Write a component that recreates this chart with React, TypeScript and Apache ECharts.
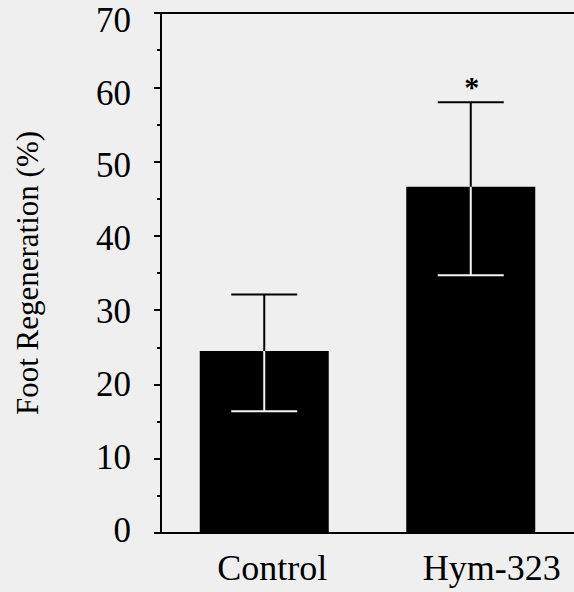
import React, { useEffect, useRef } from "react";
import * as echarts from "echarts";

const categories = ["Control", "Hym-323"];
const means = [24.5, 46.6];
const errLow = [16.4, 34.7];
const errHigh = [32.1, 58.0];
const sigMarks = ["", "*"];
const yTicks = { min: 0, max: 70, interval: 10 };
const yLabels = [0, 10, 20, 30, 40, 50, 60, 70];

const FONT = "'Liberation Serif', 'Times New Roman', serif";

export default function App() {
  const ref = useRef<HTMLDivElement>(null);
  useEffect(() => {
    if (!ref.current) return;
    const chart = echarts.init(ref.current, undefined, { renderer: "svg" });
    const errData = categories.map((_, i) => [i, means[i], errLow[i], errHigh[i]]);
    chart.setOption({
      animation: false,
      backgroundColor: "#efefef",
      grid: { left: 161, right: -7, top: 13, bottom: 59, containLabel: false },
      xAxis: [
        {
          type: "category",
          data: categories,
          axisLine: { show: true, onZero: false, lineStyle: { color: "#000", width: 2 } },
          axisTick: { show: false },
          axisLabel: {
            interval: 0,
            hideOverlap: false,
            color: "#000",
            fontSize: 36,
            fontFamily: FONT,
            margin: 17,
            formatter: (v: string, i: number) => `{c${i}|${v}}`,
            rich: {
              c0: { fontSize: 36, fontFamily: FONT, color: "#000", padding: [0, 0, 0, 16] },
              c1: { fontSize: 36, fontFamily: FONT, color: "#000", padding: [0, 0, 0, 42] },
            },
          },
        },
        {
          type: "category",
          data: categories,
          position: "top",
          axisLine: { show: true, onZero: false, lineStyle: { color: "#000", width: 2 } },
          axisTick: { show: false },
          axisLabel: { show: false },
        },
      ],
      yAxis: [
        {
          type: "value",
          min: yTicks.min,
          max: yTicks.max,
          interval: yTicks.interval,
          name: "Foot Regeneration (%)",
          nameLocation: "middle",
          nameGap: 118,
          nameTextStyle: { color: "#000", fontSize: 31, fontFamily: FONT },
          axisLine: { show: true, onZero: false, lineStyle: { color: "#000", width: 2 } },
          axisTick: { show: true, length: 7, lineStyle: { color: "#000", width: 2 } },
          minorTick: { show: true, splitNumber: 2, length: 4, lineStyle: { color: "#000", width: 2 } },
          splitLine: { show: false },
          minorSplitLine: { show: false },
          axisLabel: { show: false },
        },
        {
          type: "value",
          position: "left",
          min: -0.4,
          max: 71,
          axisLine: { show: false, onZero: false },
          axisTick: { show: false },
          splitLine: { show: false },
          axisLabel: {
            customValues: yLabels,
            color: "#000",
            fontSize: 35,
            lineHeight: 26,
            fontFamily: FONT,
            margin: 30,
          },
        },
      ],
      series: [
        {
          type: "bar",
          data: means,
          barWidth: 129,
          itemStyle: { color: "#000" },
        },
        {
          type: "custom",
          data: errData,
          encode: { x: 0, y: [1, 2, 3] },
          z: 10,
          renderItem: (params: any, api: any) => {
            const i = api.value(0);
            const m = api.value(1);
            const lo = api.value(2);
            const hi = api.value(3);
            const pM = api.coord([i, m]);
            const pLo = api.coord([i, lo]);
            const pHi = api.coord([i, hi]);
            const half = 33;
            const x = pM[0];
            const black = { stroke: "#000", lineWidth: 2 };
            const white = { stroke: "#f4f4f4", lineWidth: 2 };
            const children: any[] = [
              { type: "line", shape: { x1: x, y1: pHi[1], x2: x, y2: pM[1] }, style: black },
              { type: "line", shape: { x1: x - half, y1: pHi[1], x2: x + half, y2: pHi[1] }, style: black },
              { type: "line", shape: { x1: x, y1: pM[1], x2: x, y2: pLo[1] }, style: white },
              { type: "line", shape: { x1: x - half, y1: pLo[1], x2: x + half, y2: pLo[1] }, style: white },
            ];
            const mark = sigMarks[params.dataIndex];
            if (mark) {
              children.push({
                type: "text",
                x: x + 1,
                y: pHi[1] - 31,
                style: {
                  text: mark,
                  fill: "#000",
                  fontSize: 30,
                  fontWeight: "bold",
                  fontFamily: FONT,
                  textAlign: "center",
                  textVerticalAlign: "top",
                },
              });
            }
            return { type: "group", children };
          },
        },
      ],
    });
    return () => chart.dispose();
  }, []);
  return (
    <div
      ref={ref}
      style={{ position: "fixed", left: 0, top: 0, width: 574, height: 592 }}
    />
  );
}
